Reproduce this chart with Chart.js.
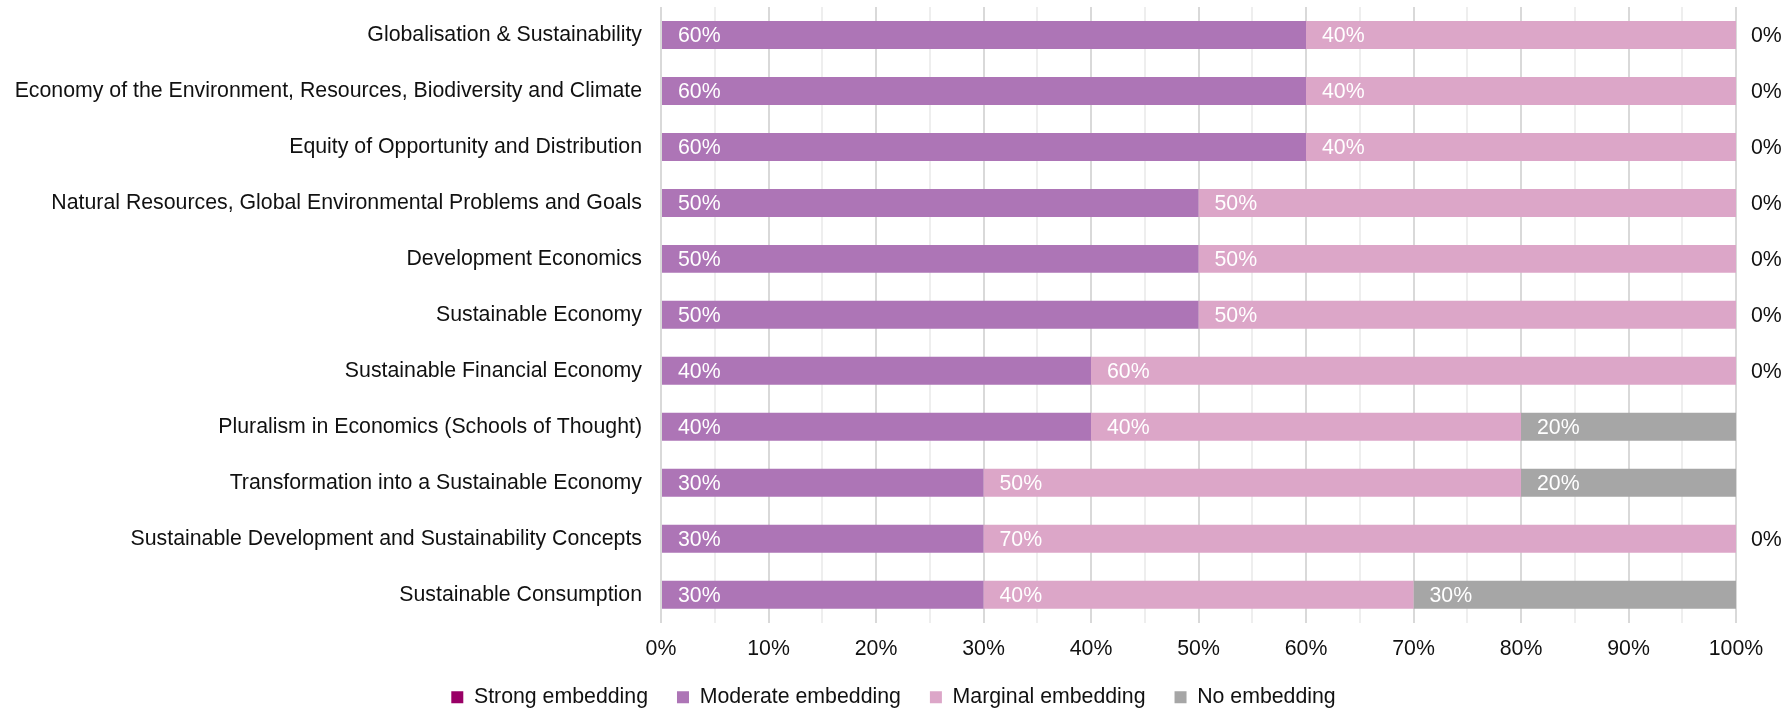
<!DOCTYPE html>
<html>
<head>
<meta charset="utf-8">
<script src="https://cdn.jsdelivr.net/npm/chart.js@4.4.1/dist/chart.umd.min.js"></script>
<style>
    html, body { margin: 0; padding: 0; background: #fff; }
    #wrap { width: 1787px; height: 710px; }
</style>
</head>
<body>
<div id="wrap"><canvas id="embedding-chart" width="1787" height="710"></canvas></div>
<script>
    "use strict";

    // Data
    var categories = [
        "Globalisation & Sustainability",
        "Economy of the Environment, Resources, Biodiversity and Climate",
        "Equity of Opportunity and Distribution",
        "Natural Resources, Global Environmental Problems and Goals",
        "Development Economics",
        "Sustainable Economy",
        "Sustainable Financial Economy",
        "Pluralism in Economics (Schools of Thought)",
        "Transformation into a Sustainable Economy",
        "Sustainable Development and Sustainability Concepts",
        "Sustainable Consumption"
    ];
    var strongValues   = [0, 0, 0, 0, 0, 0, 0, 0, 0, 0, 0];
    var moderateValues = [60, 60, 60, 50, 50, 50, 40, 40, 30, 30, 30];
    var marginalValues = [40, 40, 40, 50, 50, 50, 60, 40, 50, 70, 40];
    var noneValues     = [0, 0, 0, 0, 0, 0, 0, 20, 20, 0, 30];
    var xTicks = [0, 10, 20, 30, 40, 50, 60, 70, 80, 90, 100];

    var FONT = "'Liberation Sans', Arial, sans-serif";
    var FONT_SIZE = 21.3;

    // Data labels: white inside segments, black "0%" after the bar for empty "No embedding"
    var segmentLabels = {
        id: "segmentLabels",
        afterDatasetsDraw: function (chart) {
            var ctx = chart.ctx;
            ctx.save();
            ctx.font = FONT_SIZE + "px " + FONT;
            ctx.textBaseline = "middle";
            ctx.textAlign = "left";
            chart.data.datasets.forEach(function (ds, i) {
                var meta = chart.getDatasetMeta(i);
                meta.data.forEach(function (bar, j) {
                    var v = ds.data[j];
                    if (v > 0) {
                        ctx.fillStyle = "#ffffff";
                        ctx.fillText(v + "%", Math.min(bar.base, bar.x) + 16, bar.y + 1);
                    } else if (ds.label === "No embedding") {
                        ctx.fillStyle = "#111111";
                        ctx.fillText("0%", bar.x + 15, bar.y + 1);
                    }
                });
            });
            ctx.restore();
        }
    };

    // Pull the legend row up a little, closer to the axis labels
    var legendShift = {
        id: "legendShift",
        afterLayout: function (chart) {
            if (chart.legend) {
                chart.legend.top -= 15;
                chart.legend.bottom -= 15;
            }
        }
    };

    var ctx1 = document.getElementById("embedding-chart").getContext("2d");
    var myChart1 = new Chart(ctx1, {
        type: "bar",
        data: {
            labels: categories,
            datasets: [
                { label: "Strong embedding",   data: strongValues,   backgroundColor: "#990066" },
                { label: "Moderate embedding", data: moderateValues, backgroundColor: "#ad75b6" },
                { label: "Marginal embedding", data: marginalValues, backgroundColor: "#dca6c8" },
                { label: "No embedding",       data: noneValues,     backgroundColor: "#a6a6a6" }
            ]
        },
        options: {
            indexAxis: "y",
            responsive: false,
            animation: false,
            barPercentage: 0.5,
            categoryPercentage: 1,
            layout: { padding: { top: 7, right: 0, left: 0, bottom: -23 } },
            scales: {
                x: {
                    stacked: true,
                    min: 0,
                    max: 100,
                    border: { display: false },
                    grid: {
                        drawTicks: false,
                        lineWidth: 2,
                        color: function (c) {
                            return c.tick && c.tick.value % 10 === 0 ? "#d9d9d9" : "#eeeeee";
                        }
                    },
                    ticks: {
                        stepSize: 5,
                        autoSkip: false,
                        maxRotation: 0,
                        padding: 14,
                        color: "#111111",
                        font: { family: FONT, size: FONT_SIZE },
                        callback: function (v) {
                            return xTicks.indexOf(v) >= 0 ? v + "%" : "";
                        }
                    },
                    afterFit: function (scale) { scale.height = 50; }
                },
                y: {
                    stacked: true,
                    border: { display: false },
                    grid: { display: false, drawTicks: false },
                    ticks: {
                        padding: 19,
                        color: "#111111",
                        font: { family: FONT, size: FONT_SIZE }
                    },
                    afterFit: function (scale) {
                        scale.width = 661;
                        scale.paddingTop = 0;
                        scale.paddingBottom = 0;
                    }
                },
                // empty spacer on the right, leaves room for the "0%" labels
                yRight: {
                    type: "category",
                    position: "right",
                    labels: categories,
                    border: { display: false },
                    grid: { display: false, drawTicks: false },
                    ticks: { display: false },
                    afterFit: function (scale) {
                        scale.width = 51;
                        scale.paddingTop = 0;
                        scale.paddingBottom = 0;
                    }
                }
            },
            plugins: {
                tooltip: { enabled: false },
                legend: {
                    position: "bottom",
                    labels: {
                        boxWidth: 12,
                        boxHeight: 12,
                        padding: 29,
                        color: "#111111",
                        font: { family: FONT, size: FONT_SIZE }
                    }
                }
            }
        },
        plugins: [segmentLabels, legendShift]
    });
</script>
</body>
</html>
